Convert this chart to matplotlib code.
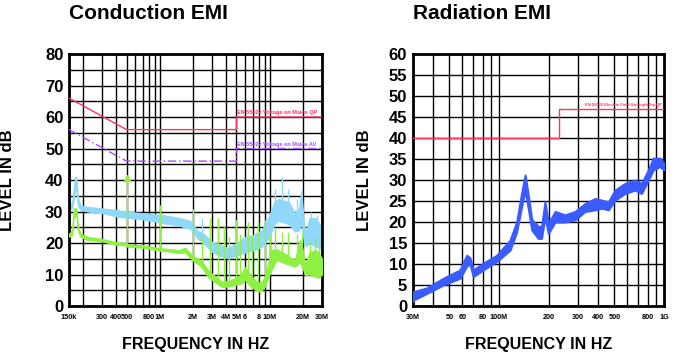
import matplotlib
matplotlib.use("Agg")
import matplotlib.pyplot as plt
import numpy as np

plt.rcParams["font.family"] = ["Liberation Sans", "DejaVu Sans"]
plt.rcParams["font.weight"] = "bold"

# ---- conduction EMI (150 kHz - 30 MHz) ----
qp_freq = [150e3, 500e3, 5e6, 5e6, 30e6]
qp_level = [66, 56, 56, 60, 60]
av_freq = [150e3, 500e3, 5e6, 5e6, 30e6]
av_level = [56, 46, 46, 50, 50]

peak_freq = [150e3, 160e3, 170e3, 175e3, 180e3, 190e3, 220e3, 300e3, 400e3, 500e3,
             700e3, 1e6, 1.5e6, 1.9e6, 2.2e6, 2.5e6, 3e6, 3.5e6, 4.2e6, 5e6, 6e6,
             7e6, 8.5e6, 10e6, 11e6, 12e6, 15e6, 17e6, 18.5e6, 19.5e6, 20.5e6,
             21.5e6, 23e6, 26e6, 30e6]
peak_lo = [30.5, 31, 36, 38, 32, 30.5, 30, 29.5, 28.5, 28, 27.5, 26.5, 25.5, 24.5,
           21.5, 20, 17.2, 16, 15.2, 16, 17, 17.5, 18.8, 22, 26, 27, 26, 23.6, 24,
           27, 20, 18.9, 20, 19, 18]
peak_hi = [32, 33, 41, 41, 35, 32, 31.5, 31, 30.5, 30, 29.5, 29, 28, 27, 24, 23,
           20.4, 19.5, 18.4, 20, 22, 22.5, 24, 29, 33, 34, 33, 29.5, 31, 36.8, 26,
           23.4, 28, 28, 25]

avg_freq = [150e3, 160e3, 165e3, 175e3, 180e3, 190e3, 220e3, 300e3, 400e3, 490e3,
            510e3, 700e3, 1e6, 1.3e6, 1.5e6, 1.7e6, 2e6, 2.4e6, 2.74e6, 3.2e6,
            3.66e6, 4.3e6, 4.84e6, 5.5e6, 6e6, 6.6e6, 7.5e6, 8.2e6, 9e6, 10.4e6,
            11.6e6, 14e6, 17e6, 18.9e6, 20e6, 21e6, 23e6, 26e6, 28e6, 30e6]
avg_lo = [22, 22.5, 28, 29, 24, 22, 21, 20.5, 19.5, 19.2, 18.8, 18.5, 17.6, 17.2,
          16.8, 17, 14.5, 12.5, 9.3, 7.5, 6.1, 6.2, 6.7, 7, 8.3, 6.5, 5, 4.5, 6,
          11.4, 14.6, 13.5, 12.5, 14, 12, 9.8, 10, 9.3, 9, 10]
avg_hi = [23, 24, 31, 31, 26, 23, 22, 21.3, 20.3, 20, 19.6, 19.3, 18.4, 18, 17.8,
          18.5, 16, 14.5, 11.4, 9.5, 7.7, 8, 8.9, 10, 12.5, 10, 8, 7.3, 9, 17.8, 18,
          16.5, 14.6, 21, 18, 13, 17, 17.8, 17, 15]

peak_spike_freq = [500e3, 1e6, 2e6, 2.41e6, 3.41e6, 3.87e6, 4.92e6, 6.3e6, 7.78e6,
                   9.07e6, 11.2e6, 13e6, 14.8e6, 17.6e6, 24e6, 27e6]
peak_spike_top = [32.7, 32, 30.8, 27.8, 27.8, 25.2, 27.3, 26.8, 26.8, 27.3, 37, 41,
                  37, 34, 30, 29]
avg_spike_freq = [500e3, 1e6, 2e6, 2.41e6, 2.87e6, 3.41e6, 3.87e6, 4.3e6, 4.92e6,
                  5.38e6, 6.3e6, 6.95e6, 7.78e6, 9.07e6, 10.1e6, 11.2e6, 13e6,
                  14.8e6, 17.6e6, 19.6e6, 23.3e6, 25.8e6, 28.1e6]
avg_spike_top = [41, 32, 30.8, 22, 27.8, 27.8, 25.2, 22, 27.3, 23, 26.8, 22.5, 26.8,
                 27.3, 22.5, 25, 23.6, 23.6, 23, 23, 19.9, 22, 19.9]

cond_ticks = [150e3, 300e3, 400e3, 500e3, 800e3, 1e6, 2e6, 3e6, 4e6, 5e6, 6e6, 8e6,
              10e6, 20e6, 30e6]
cond_labels = ["150k", "300", "400", "500", "800", "1M", "2M", "3M", "4M", "5M",
               "6", "8", "10M", "20M", "30M"]

# ---- radiation EMI (30 MHz - 1 GHz) ----
rad_lim_freq = [30e6, 230e6, 230e6, 1e9]
rad_lim_level = [40, 40, 47, 47]

rad_freq = [30e6, 30.2e6, 36.5e6, 45.9e6, 58e6, 63.7e6, 66.7e6, 69.8e6, 80.3e6,
            96.9e6, 116.7e6, 128e6, 137e6, 144e6, 151e6, 158e6, 173e6, 181e6,
            190e6, 199e6, 219e6, 251e6, 289e6, 332e6, 382e6, 419e6, 460e6, 505e6,
            580e6, 667e6, 731e6, 803e6, 861e6, 946e6, 1e9]
rad_lo = [1.0, 1.4, 3.0, 5.0, 6.6, 9.5, 10.0, 7.0, 8.6, 10.6, 13.3, 17.7, 23.6,
          27.5, 22.9, 18.1, 16.1, 16.1, 21.2, 17.3, 20.0, 20.0, 20.5, 22.5, 22.9,
          23.3, 22.9, 25.2, 26.8, 27.6, 26.8, 30.0, 32.4, 33.2, 32.4]
rad_hi = [3.0, 3.4, 4.3, 6.6, 8.6, 12.1, 11.5, 8.6, 10.2, 12.1, 15.7, 20.0, 26.8,
          31.2, 26.0, 20.6, 19.0, 18.9, 24.8, 19.7, 22.5, 21.7, 22.5, 24.4, 25.6,
          25.2, 24.8, 27.6, 29.2, 30.0, 29.2, 32.4, 35.2, 35.2, 34.0]

rad_ticks = [30e6, 50e6, 60e6, 80e6, 100e6, 200e6, 300e6, 400e6, 500e6, 800e6, 1e9]
rad_labels = ["30M", "50", "60", "80", "100M", "200", "300", "400", "500", "800", "1G"]

RED = "#ff3366"
PURPLE = "#a64dff"
LIGHTBLUE = "#8fd8fa"
GREEN = "#8ef040"
BLUE = "#3a5cff"


def style_axes(ax, xmin, xmax, ymax, ystep_label, xticks, xlabels):
    ax.set_xscale("log")
    ax.set_xlim(xmin, xmax)
    ax.set_ylim(0, ymax)
    ax.set_yticks(np.arange(0, ymax + 1, ystep_label))
    ax.set_yticks(np.arange(0, ymax + 1, 5), minor=True)
    ax.set_xticks(xticks)
    ax.set_xticklabels(xlabels)
    ax.xaxis.set_minor_locator(matplotlib.ticker.LogLocator(base=10, subs=np.arange(2, 10)))
    ax.xaxis.set_minor_formatter(matplotlib.ticker.NullFormatter())
    ax.grid(True, which="both", color="black", linewidth=1.0)
    ax.set_axisbelow(True)
    ax.tick_params(which="both", length=0)
    ax.tick_params(axis="y", labelsize=12, pad=4)
    ax.tick_params(axis="x", labelsize=5.2, pad=6)
    for s in ax.spines.values():
        s.set_linewidth(2)
    ax.set_ylabel("LEVEL IN dB", fontsize=12, fontweight="bold")
    ax.set_xlabel("FREQUENCY IN HZ", fontsize=11.5, fontweight="bold")
    ax.xaxis.set_label_coords(0.5, -0.122)


fig = plt.figure(figsize=(6.76, 3.56), dpi=100)
ax1 = fig.add_axes([0.1021, 0.1404, 0.3743, 0.7079])
ax2 = fig.add_axes([0.6105, 0.1404, 0.3717, 0.7079])

# conduction
style_axes(ax1, 150e3, 30e6, 80, 10, cond_ticks, cond_labels)
ax1.yaxis.set_label_coords(-0.215, 0.5)
ax1.fill_between(peak_freq, peak_lo, peak_hi, color=LIGHTBLUE, lw=0.8, zorder=2)
ax1.vlines(peak_spike_freq, np.interp(np.log(peak_spike_freq), np.log(peak_freq), peak_lo),
           peak_spike_top, color=LIGHTBLUE, lw=1, zorder=2)
ax1.fill_between(avg_freq, avg_lo, avg_hi, color=GREEN, lw=0.8, zorder=3)
ax1.vlines(avg_spike_freq, np.interp(np.log(avg_spike_freq), np.log(avg_freq), avg_lo),
           avg_spike_top, color=GREEN, lw=1, zorder=3)
ax1.plot([avg_spike_freq[0]], [avg_spike_top[0] - 0.5], marker="^", ms=4, color=GREEN, zorder=3)
ax1.plot(qp_freq, qp_level, color=RED, lw=1, zorder=4)
ax1.plot(av_freq, av_level, color=PURPLE, lw=1, ls=(0, (6, 2, 1, 2)), zorder=4)
ax1.text(5.1e6, 60.6, "EN 55022 Voltage on Mains QP", color=RED, fontsize=4,
         fontweight="bold", va="bottom", ha="left", zorder=5)
ax1.text(5.1e6, 50.6, "EN 55022 Voltage on Mains AV", color=PURPLE, fontsize=4,
         fontweight="bold", va="bottom", ha="left", zorder=5)
ax1.text(0.0, 1.16, "Conduction EMI", transform=ax1.transAxes, fontsize=15,
         fontweight="bold", ha="left", va="center")

# radiation
style_axes(ax2, 30e6, 1e9, 60, 5, rad_ticks, rad_labels)
ax2.yaxis.set_label_coords(-0.163, 0.5)
ax2.fill_between(rad_freq, rad_lo, rad_hi, color=BLUE, lw=1.5, zorder=3)
ax2.plot(rad_lim_freq, rad_lim_level, color=RED, lw=1, zorder=4)
ax2.text(3.3e8, 47.3, "EN 55022 Electric Field Strength 3m QP", color=RED, fontsize=3,
         fontweight="bold", va="bottom", ha="left", zorder=5)
ax2.text(0.0, 1.16, "Radiation EMI", transform=ax2.transAxes, fontsize=15,
         fontweight="bold", ha="left", va="center")

fig.savefig("out.png", dpi=100)
